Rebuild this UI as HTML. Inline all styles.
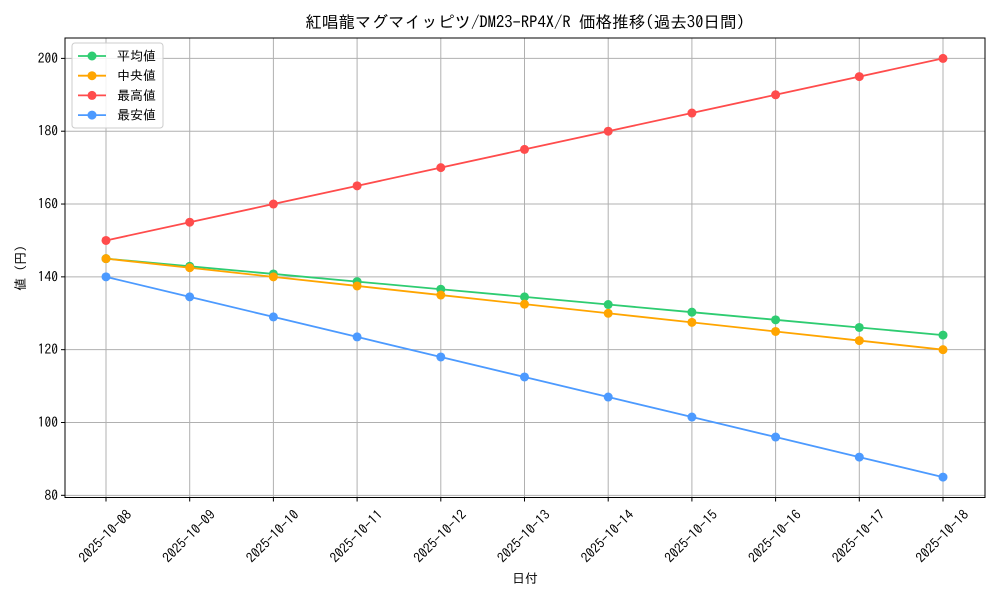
<!DOCTYPE html>
<html><head><meta charset="utf-8"><style>
body{margin:0;background:#fff}
svg text{font-family:"IPAGothic","Liberation Sans","Noto Sans CJK JP",sans-serif;fill:#000}
</style></head><body>
<svg width="1000" height="600" id="c">
<text x="525" y="28" text-anchor="middle" font-size="16.6">紅唱龍マグマイッピツ/DM23-RP4X/R 価格推移(過去30日間)</text>
<text x="525" y="583" text-anchor="middle" font-size="13">日付</text>
<text x="0" y="0" transform="translate(25,268) rotate(-90)" text-anchor="middle" font-size="13">値 (円)</text>
<g id="grid"></g><g id="series"></g><g id="axes"></g>
</svg>
<script>
const categories=["2025-10-08","2025-10-09","2025-10-10","2025-10-11","2025-10-12","2025-10-13","2025-10-14","2025-10-15","2025-10-16","2025-10-17","2025-10-18"];
const meanValues=[145,142.9,140.8,138.7,136.6,134.5,132.4,130.3,128.2,126.1,124];
const medianValues=[145,142.5,140,137.5,135,132.5,130,127.5,125,122.5,120];
const maxValues=[150,155,160,165,170,175,180,185,190,195,200];
const minValues=[140,134.5,129,123.5,118,112.5,107,101.5,96,90.5,85];
const yTicks=[80,100,120,140,160,180,200];
const seriesNames=["平均値","中央値","最高値","最安値"];
const NS="http://www.w3.org/2000/svg";
const L=65,R=985,T=38,B=497.5;
const yMin=79.4,yMax=205.6;
function xs(i){return 106+i*(943-106)/(categories.length-1);}
function ys(v){return B-(v-yMin)/(yMax-yMin)*(B-T);}
function mk(tag,attrs,parent){const e=document.createElementNS(NS,tag);for(const k in attrs)e.setAttribute(k,attrs[k]);parent.appendChild(e);return e;}
const g=document.getElementById('grid'),s=document.getElementById('series'),a=document.getElementById('axes');
categories.forEach((c,i)=>{
 const l=mk('line',{x1:xs(i),x2:xs(i),y1:T,y2:B,stroke:'#b0b0b0','stroke-width':1},g);
 
 
 const t=mk('line',{x1:xs(i),x2:xs(i),y1:B,y2:B+4,stroke:'#000'},a);
 
 
 const tx=mk('text',{x:0,y:0,transform:`translate(${xs(i)},${537}) rotate(-45)`,'text-anchor':'middle','dominant-baseline':'middle','font-size':13.5},a);
 tx.textContent=c;
 
 
});
yTicks.forEach(v=>{
 const l=mk('line',{x1:L,x2:R,y1:ys(v),y2:ys(v),stroke:'#b0b0b0','stroke-width':1},g);
 
 
 const t=mk('line',{x1:L-4,x2:L,y1:ys(v),y2:ys(v),stroke:'#000'},a);
 
 
 const tx=mk('text',{x:L-7,y:ys(v)+4.5,'text-anchor':'end','font-size':13.5},a);
 tx.textContent=v;
 
 
});
const frame=mk('rect',{x:L,y:T,width:R-L,height:B-T,fill:'none',stroke:'#000','stroke-width':1},a);


const data=[meanValues,medianValues,maxValues,minValues];
const colors=['#2ecc71','#ffa500','#ff4c4c','#4c9aff'];
const keys=['mean','median','max','min'];
data.forEach((d,k)=>{
 const p=mk('polyline',{points:d.map((v,i)=>xs(i)+','+ys(v)).join(' '),fill:'none',stroke:colors[k],'stroke-width':1.8},s);
 
 
 d.forEach((v,i)=>{
  const c=mk('circle',{cx:xs(i),cy:ys(v),r:4.5,fill:colors[k]},s);
  
  
 });
});
const lg=mk('g',{},a);


mk('rect',{x:72,y:43,width:91,height:85,rx:3,fill:'#fff','fill-opacity':0.85,stroke:'#ccc'},lg);
seriesNames.forEach((n,k)=>{
 const y=56+k*19.7;
 const e=mk('g',{},lg);
 
 
 mk('line',{x1:78,x2:106,y1:y,y2:y,stroke:colors[k],'stroke-width':1.8},e);
 mk('circle',{cx:92,cy:y,r:4.5,fill:colors[k]},e);
 const t=mk('text',{x:117,y:y+4.5,'font-size':13},e);
 t.textContent=n;
});
</script>
</body></html>
